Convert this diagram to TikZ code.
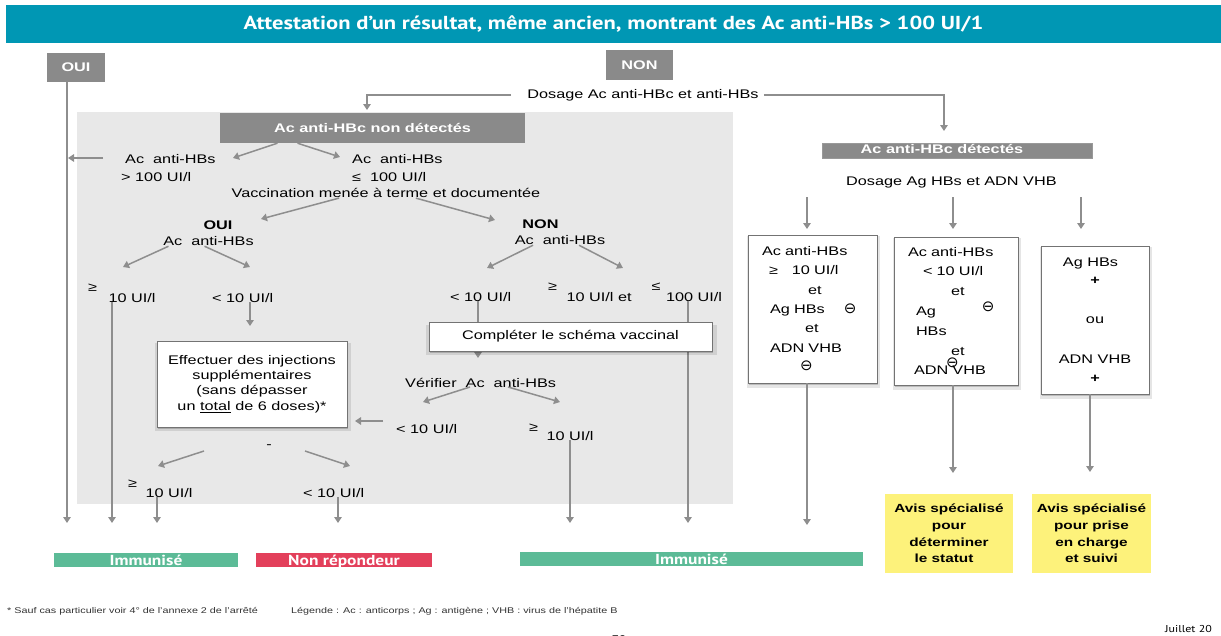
\documentclass[tikz,border=0pt]{standalone}
\usepackage{fontspec}
\setmainfont[FakeStretch=1.3]{Liberation Sans}
\newfontfamily\dinfont[FakeStretch=1.2]{PT Sans}
\newfontfamily\symfont{DejaVu Sans}
\newcommand{\negsign}{{\symfont\fontsize{15}{15}\selectfont ⊖}}
\usetikzlibrary{arrows.meta,shadows}
\definecolor{titleteal}{HTML}{0097B4}
\definecolor{headgray}{HTML}{8A8A8A}
\definecolor{zonegray}{HTML}{E8E8E8}
\definecolor{arrowgray}{HTML}{8E8E8E}
\definecolor{immungreen}{HTML}{5CBB97}
\definecolor{nonrepred}{HTML}{E3405B}
\definecolor{avisyellow}{HTML}{FDF27B}

\begin{document}
\begin{tikzpicture}[x=1pt, y=-1pt,
  font=\fontsize{12.5}{18}\selectfont,
  every node/.style={inner sep=0pt},
  titlebar/.style={fill=titleteal, text=white, minimum width=1215pt, minimum height=38pt,
                   font=\dinfont\bfseries\fontsize{18.8}{20}\selectfont},
  headbox/.style={fill=headgray, text=white, font=\bfseries\fontsize{12.5}{14}\selectfont},
  softshadow/.style={general shadow={fill=black, opacity=.10, shadow xshift=1pt, shadow yshift=-3pt, shadow scale=1.03},
                     general shadow={fill=black, opacity=.18, shadow xshift=1pt, shadow yshift=-1.5pt}},
  whitebox/.style={draw=black!55, line width=0.6pt, fill=white, softshadow},
  resultbar/.style={text=white, minimum height=14.5pt, text height=12pt, text depth=1pt,
                    font=\dinfont\bfseries\fontsize{14.5}{15}\selectfont},
  avisbox/.style={fill=avisyellow, minimum height=79pt, align=center,
                  font=\bfseries\fontsize{11.8}{16.7}\selectfont},
  flow/.style={-{Triangle[length=6pt,width=7.5pt]}, line width=1.5pt, draw=arrowgray},
  foot/.style={anchor=base west, font=\fontsize{8.3}{10}\selectfont, text=black!80}
]
\useasboundingbox (0,0) rectangle (1221,635);

% zone des Ac anti-HBc non detectes
\fill[zonegray] (77,112) rectangle (733,504);

\node[titlebar] (title) at (613.5,24) {Attestation d’un résultat, même ancien, montrant des Ac anti-HBs > 100 UI/1};

\node[headbox, minimum width=58pt, minimum height=29pt] (oui) at (76,67.5) {OUI};
\node[headbox, minimum width=67pt, minimum height=30pt] (non) at (639.5,65) {NON};
\node[anchor=base] (dosage) at (643,98) {Dosage Ac anti-HBc et anti-HBs};

\coordinate (negin) at (367,110);
\coordinate (posin) at (944,131);
\draw[flow, shorten <=16pt] (dosage.west) -| (negin);
\draw[flow, shorten <=5pt] (dosage.east) -| (posin);

\coordinate (ouiline) at (67,523);
\draw[flow] (oui.south -| ouiline) -- (ouiline);

\node[headbox, minimum width=305pt, minimum height=30pt] (hbcneg) at (372.5,128) {Ac anti-HBc non détectés};

\node[align=left, anchor=north west] (hbshigh) at (121,154) {\hspace*{4pt}Ac~ anti-HBs\\> 100 UI/l};
\node[align=left, anchor=north west] (hbslow) at (352,154) {Ac~ anti-HBs\\≤~ 100 UI/l};
\node[anchor=base] (vaccin) at (386,197) {Vaccination menée à terme et documentée};

\coordinate (hbshighout) at (68,158);
\draw[flow] ([shift={(-18,4)}]hbshigh.north west) -- (hbshighout);
\coordinate (hbshighin) at (233,158);
\coordinate (hbslowin) at (340,157);
\draw[flow] ([xshift=-95pt]hbcneg.south) -- (hbshighin);
\draw[flow] ([xshift=-75pt]hbcneg.south) -- (hbslowin);

\coordinate (ouibin) at (261,219);
\coordinate (nonbin) at (495,220);
\draw[flow, shorten <=3pt] ([xshift=-44pt]vaccin.south) -- (ouibin);
\draw[flow, shorten <=3pt] ([xshift=27pt]vaccin.south) -- (nonbin);

% branche OUI
\node[align=center, anchor=north, font=\fontsize{12.5}{16}\selectfont] (ouib) at (208.5,221) {\hspace*{19pt}\textbf{OUI}\\Ac~ anti-HBs};
\coordinate (ge10ain) at (123,267);
\coordinate (lt10ain) at (250,267);
\draw[flow] ([xshift=-40pt]ouib.south) -- (ge10ain);
\draw[flow] ([xshift=-4pt]ouib.south) -- (lt10ain);

\node[anchor=base west] (ge10a) at (88,302) {\raisebox{10.5pt}{≥}\hspace{11.5pt}10 UI/l};
\node[anchor=base west] (lt10a) at (212,302) {< 10 UI/l};
\coordinate (ge10aout) at (112,523);
\coordinate (effin) at (250,326);
\draw[flow] (ge10a.base -| ge10aout) -- (ge10aout);
\draw[flow] (lt10a.base -| effin) -- (effin);

\node[whitebox, minimum width=190pt, minimum height=86pt, align=center,
      font=\fontsize{12.5}{15.3}\selectfont] (effect) at (252,384)
  {Effectuer des injections\\supplémentaires\\(sans dépasser\\un \underline{total} de 6 doses)*};

\node (minus) at (269,447) {-};
\coordinate (ge10cin) at (158,466);
\coordinate (lt10cin) at (350,466);
\draw[flow] ([shift={(-65,4)}]minus.center) -- (ge10cin);
\draw[flow] ([shift={(36,4)}]minus.center) -- (lt10cin);
\node[anchor=base west] (ge10c) at (128,497) {\raisebox{9.6pt}{≥}\hspace{8.5pt}10 UI/l};
\node[anchor=base west] (lt10c) at (303,497) {< 10 UI/l};
\coordinate (ge10cout) at (157,523);
\coordinate (lt10cout) at (338,523);
\draw[flow] (ge10c.base -| ge10cout) -- (ge10cout);
\draw[flow] (lt10c.base -| lt10cout) -- (lt10cout);

% branche NON
\node[align=center, anchor=north, font=\fontsize{12.5}{16}\selectfont] (nonb) at (560,220) {\textbf{NON}\hspace*{39pt}\\Ac~ anti-HBs};
\coordinate (lt10bin) at (487,268);
\coordinate (gelebin) at (623,268);
\draw[flow] ([xshift=-27pt]nonb.south) -- (lt10bin);
\draw[flow] ([xshift=19pt]nonb.south) -- (gelebin);

\node[anchor=base west] (lt10b) at (450,301) {< 10 UI/l};
\node[anchor=base west] (geleb) at (548,301) {\raisebox{11pt}{≥}\hspace{9.5pt}10 UI/l et\hspace{20pt}\raisebox{11pt}{≤}\hspace{5.5pt}100 UI/l};
\coordinate (verin) at (478,358);
\coordinate (gelebout) at (688,523);
\draw[flow] (lt10b.base -| verin) -- (verin);
\draw[flow] (geleb.base -| gelebout) -- (gelebout);
\node[whitebox, minimum width=283pt, minimum height=29pt] (compl) at (570.5,336.5) {Compléter le schéma vaccinal};

\node[anchor=base west] (verif) at (405,387) {Vérifier~ Ac~ anti-HBs};
\coordinate (lt10din) at (423,402);
\coordinate (ge10din) at (560,402);
\draw[flow] ([xshift=65pt]verif.base west) -- (lt10din);
\draw[flow] ([xshift=103pt]verif.base west) -- (ge10din);
\node[anchor=base west] (lt10d) at (396,433) {< 10 UI/l};
\coordinate (effback) at (355,421);
\draw[flow] ([shift={(-13,-12)}]lt10d.base west) -- (effback);
\node[anchor=base west] (ge10d) at (529,440) {\raisebox{8.6pt}{≥}\hspace{8.5pt}10 UI/l};
\coordinate (ge10dout) at (570,523);
\draw[flow] (ge10d.base -| ge10dout) -- (ge10dout);

% Ac anti-HBc detectes
\node[headbox, minimum width=270pt, minimum height=15pt, text height=9pt, text depth=2.5pt,
      draw=black!40, line width=.4pt] (hbcpos) at (957,150.5) {Ac anti-HBc détectés\hspace*{30pt}};
\node[anchor=base west] (dosag2) at (846,185) {Dosage Ag HBs et ADN VHB};
\coordinate (r1in) at (807,229);
\coordinate (r2in) at (953,229);
\coordinate (r3in) at (1081,229);
\draw[flow, shorten <=12pt] (dosag2.base -| r1in) -- (r1in);
\draw[flow, shorten <=12pt] (dosag2.base -| r2in) -- (r2in);
\draw[flow, shorten <=12pt] (dosag2.base -| r3in) -- (r3in);

\node[whitebox, minimum width=129pt, minimum height=148pt, text width=101pt, align=left,
      font=\fontsize{12.5}{19.3}\selectfont] (res1) at (812.5,309)
  {Ac anti-HBs\\\hspace*{7pt}≥\hspace{14pt}10 UI/l\\\hspace*{46pt}et\\\hspace*{8pt}Ag HBs\hspace{19pt}\negsign\\\hspace*{43pt}et\\\hspace*{8pt}ADN VHB\\\hspace*{38pt}\raisebox{1pt}{\negsign}};
\node[whitebox, minimum width=124pt, minimum height=148pt, text width=96pt, align=left,
      font=\fontsize{12.5}{19.8}\selectfont] (res2) at (956,311)
  {Ac anti-HBs\\\hspace*{15pt}< 10 UI/l\\\hspace*{43pt}et\\\hspace*{8pt}Ag\hspace{46pt}\raisebox{4pt}{\negsign}\\\hspace*{8pt}HBs\\\hspace*{43pt}et\\\hspace*{6pt}\rlap{\hspace{32pt}\raisebox{7pt}{\negsign}}ADN VHB};
\node[whitebox, minimum width=108pt, minimum height=148pt, align=center,
      font=\fontsize{12.5}{18.5}\selectfont] (res3) at (1095,320)
  {Ag HBs\hspace*{9pt}\\\textbf{+}\\[20pt]ou\hspace*{20pt}\\[21.5pt]ADN VHB\hspace*{13pt}\\[1pt]\textbf{+}};

\coordinate (r1out) at (807,525);
\coordinate (r2out) at (953,473);
\coordinate (r3out) at (1090,472);
\draw[flow] (res1.south -| r1out) -- (r1out);
\draw[flow] (res2.south -| r2out) -- (r2out);
\draw[flow] (res3.south -| r3out) -- (r3out);

\node[avisbox, minimum width=128pt] (avis1) at (949,533.5) {Avis spécialisé\\pour\\déterminer\\le statut\hspace*{10pt}};
\node[avisbox, minimum width=119pt] (avis2) at (1091.5,533.5) {Avis spécialisé\\pour prise\\en charge\\et suivi};

% conclusions
\node[resultbar, fill=immungreen, minimum width=184pt] (immun1) at (146,560) {Immunisé};
\node[resultbar, fill=nonrepred, minimum width=176pt] (nonrep) at (344,560) {Non répondeur};
\node[resultbar, fill=immungreen, minimum width=343pt] (immun2) at (691.5,559) {Immunisé};

\node[foot] (asterisk) at (7,613) {* Sauf cas particulier voir 4° de l’annexe 2 de l’arrêté};
\node[foot] (legende) at (291,613) {Légende : Ac : anticorps ; Ag : antigène ; VHB : virus de l’hépatite B};
\node[anchor=base west, font=\dinfont\fontsize{10}{12}\selectfont] (date) at (1165,632) {Juillet 20};
\node[anchor=base, font=\dinfont\fontsize{11}{12}\selectfont] (pagenum) at (619,643) {79};
\end{tikzpicture}
\end{document}
